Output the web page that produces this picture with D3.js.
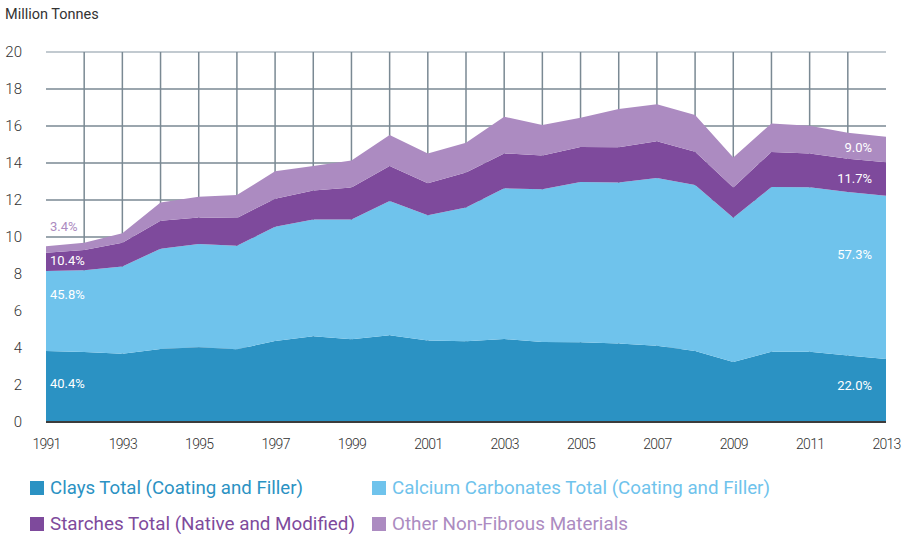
<!DOCTYPE html>
<html>
<head>
<meta charset="utf-8">
<script src="https://cdn.jsdelivr.net/npm/d3@7"></script>
<style>
body { margin: 0; background: #fff; }
svg { display: block; }
</style>
</head>
<body>
<div id="main"></div>
<script>
// chart data (million tonnes)
var years = [1991,1992,1993,1994,1995,1996,1997,1998,1999,2000,2001,2002,2003,2004,2005,2006,2007,2008,2009,2010,2011,2012,2013];
var clays    = [3.84,3.78,3.69,3.95,4.04,3.93,4.38,4.63,4.47,4.69,4.41,4.36,4.49,4.32,4.31,4.25,4.12,3.84,3.24,3.80,3.80,3.60,3.41];
var calcium  = [4.32,4.42,4.71,5.42,5.58,5.60,6.18,6.32,6.48,7.26,6.76,7.24,8.14,8.26,8.66,8.69,9.07,8.97,7.80,8.90,8.89,8.83,8.82];
var starches = [0.99,1.10,1.29,1.51,1.44,1.50,1.51,1.57,1.72,1.89,1.73,1.88,1.89,1.82,1.89,1.91,1.98,1.80,1.63,1.90,1.83,1.80,1.81];
var other    = [0.35,0.39,0.51,0.99,1.12,1.24,1.48,1.32,1.46,1.67,1.62,1.62,1.98,1.65,1.59,2.07,2.00,1.99,1.63,1.54,1.50,1.41,1.38];

var seriesKeys = ["clays","calcium","starches","other"];
var seriesNames = ["Clays Total (Coating and Filler)", "Calcium Carbonates Total (Coating and Filler)",
                   "Starches Total (Native and Modified)", "Other Non-Fibrous Materials"];
var seriesColors = ["#2b92c3", "#6fc3ec", "#7e4a9c", "#ac8bc1"];

var startShares = ["40.4%","45.8%","10.4%","3.4%"];
var endShares   = ["22.0%","57.3%","11.7%","9.0%"];

var yTicks = [0,2,4,6,8,10,12,14,16,18,20];
var xTicks = [1991,1993,1995,1997,1999,2001,2003,2005,2007,2009,2011,2013];

var width = 910, height = 534;
var plotLeft = 46, plotRight = 886, plotTop = 52, plotBottom = 422;
var font = "Roboto, 'Liberation Sans', sans-serif";

var rows = years.map(function(yr, i) {
	return { year: yr, clays: clays[i], calcium: calcium[i], starches: starches[i], other: other[i] };
});

var x = d3.scaleLinear().domain([1991, 2013]).range([plotLeft, plotRight]);
var y = d3.scaleLinear().domain([0, 20]).range([plotBottom, plotTop]);

var svg = d3.select("#main").append("svg")
	.attr("width", width)
	.attr("height", height);

// grid
svg.append("g").selectAll("line")
	.data(yTicks.filter(function(d) { return d > 0; }))
	.enter().append("line")
	.attr("x1", plotLeft).attr("x2", plotRight)
	.attr("y1", function(d) { return y(d); })
	.attr("y2", function(d) { return y(d); })
	.attr("stroke", function(d) { return d == 20 ? "#aeb9c0" : "#7a8993"; })
	.attr("stroke-width", 1.5);

svg.append("g").selectAll("line")
	.data(years.slice(1, -1))
	.enter().append("line")
	.attr("x1", function(d) { return x(d); })
	.attr("x2", function(d) { return x(d); })
	.attr("y1", plotTop).attr("y2", plotBottom)
	.attr("stroke", "#7a8993")
	.attr("stroke-width", 1.5);

// stacked areas
var stack = d3.stack().keys(seriesKeys);
var layers = stack(rows);

var area = d3.area()
	.x(function(d) { return x(d.data.year); })
	.y0(function(d) { return y(d[0]); })
	.y1(function(d) { return y(d[1]); });

svg.append("g").selectAll("path")
	.data(layers)
	.enter().append("path")
	.attr("d", area)
	.attr("fill", function(d, i) { return seriesColors[i]; });

// baseline
svg.append("line")
	.attr("x1", plotLeft).attr("x2", plotRight)
	.attr("y1", y(0)).attr("y2", y(0))
	.attr("stroke", "#3c3c3c")
	.attr("stroke-width", 2);

// axes
var yAxis = svg.append("g")
	.attr("transform", "translate(" + plotLeft + ",0)")
	.call(d3.axisLeft(y).tickValues(yTicks).tickSize(0).tickPadding(24).tickFormat(d3.format("d")));
yAxis.select(".domain").remove();
yAxis.selectAll("text").attr("font-family", font).attr("font-size", 15).attr("font-weight", 300).attr("fill", "#333");

var xAxis = svg.append("g")
	.attr("transform", "translate(0," + plotBottom + ")")
	.call(d3.axisBottom(x).tickValues(xTicks).tickSize(0).tickPadding(17).tickFormat(d3.format("d")));
xAxis.select(".domain").remove();
xAxis.selectAll("text").attr("font-family", font).attr("font-size", 14).attr("font-weight", 300).attr("fill", "#333")
	.attr("letter-spacing", "-0.7px");

svg.append("text")
	.attr("x", 5).attr("y", 19)
	.attr("font-family", font).attr("font-size", 14.5).attr("fill", "#333")
	.text("Million Tonnes");

// share labels at both ends
var startDy = [2, -12, 3, -18];
var endDy = [0, -18, 4, 3];
var startFill = ["#fff", "#fff", "#fff", "#ac8bc1"];

function mid(layer, idx) { return (layer[idx][0] + layer[idx][1]) / 2; }

svg.append("g").selectAll("text")
	.data(layers)
	.enter().append("text")
	.attr("x", x(years[0]) + 4)
	.attr("y", function(d, i) { return y(mid(d, 0)) + startDy[i]; })
	.attr("fill", function(d, i) { return startFill[i]; })
	.attr("font-family", font).attr("font-size", 13)
	.text(function(d, i) { return startShares[i]; });

svg.append("g").selectAll("text")
	.data(layers)
	.enter().append("text")
	.attr("x", x(years[years.length - 1]) - 14)
	.attr("y", function(d, i) { return y(mid(d, years.length - 1)) + endDy[i]; })
	.attr("text-anchor", "end")
	.attr("fill", "#fff")
	.attr("font-family", font).attr("font-size", 13)
	.text(function(d, i) { return endShares[i]; });

// legend
var legendPos = [[30, 481], [372, 481], [30, 517], [372, 517]];
var legendLen = [253, 378, 305, 236];

var legend = svg.append("g").selectAll("g")
	.data(seriesNames)
	.enter().append("g")
	.attr("transform", function(d, i) { return "translate(" + legendPos[i][0] + "," + legendPos[i][1] + ")"; });

legend.append("rect")
	.attr("width", 14).attr("height", 14)
	.attr("fill", function(d, i) { return seriesColors[i]; });

legend.append("text")
	.attr("x", 20).attr("y", 13)
	.attr("font-family", "'Liberation Sans Narrow', Roboto, sans-serif")
	.attr("font-size", 17.5)
	.attr("textLength", function(d, i) { return legendLen[i]; })
	.attr("lengthAdjust", "spacingAndGlyphs")
	.attr("fill", function(d, i) { return seriesColors[i]; })
	.text(function(d) { return d; });
</script>
</body>
</html>
